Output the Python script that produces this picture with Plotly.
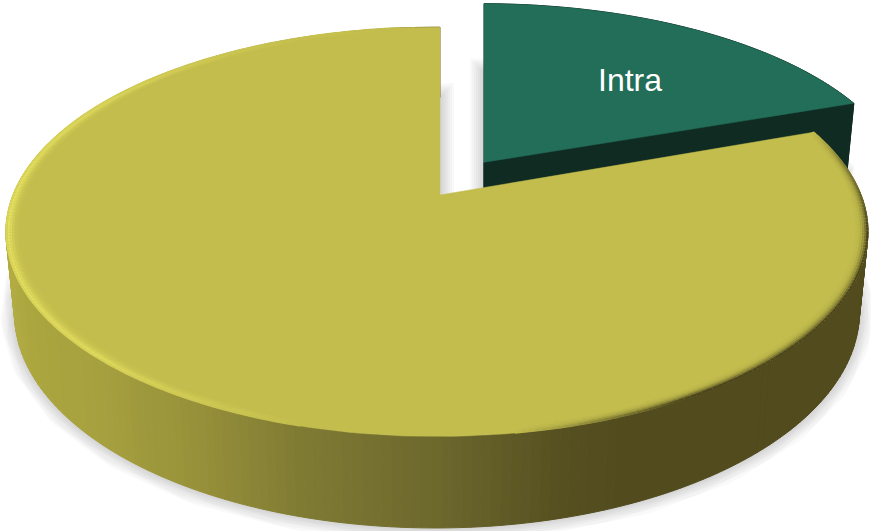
import numpy as np
import plotly.graph_objects as go

categories = ["Intra", "Extra"]
values = [19.5, 80.5]
top_colors = ["#236e59", "#c3bd4e"]
side_color_intra = "#0f2b22"
label_size = 32

# projection of the pie disk on the picture
CX, CY, A, B, K, M, H, BASE = 440, 195, 424, 198, 0.18, 0.007, 79, 0.98
EXPLODE_U, EXPLODE_V = 44 / 424, 0.17
INTRA_STRETCH = 1.018


def project(theta, r=1.0, ou=0.0, ov=0.0, base=False):
    u = r * np.sin(theta)
    v = r * np.cos(theta) + ov
    w = 1 / (1 + K * v + M * u)
    s = BASE if base else 1.0
    stretch = INTRA_STRETCH if ou else 1.0
    x = CX + A * ou + A * u * w * s * stretch
    y = CY - B * v * w * s + (H * w if base else 0)
    return np.asarray(x), np.asarray(y)


def hexrgb(c):
    return np.array([int(c[i:i + 2], 16) for i in (1, 3, 5)], float)


def rgbstr(c):
    return "rgb(%d,%d,%d)" % tuple(np.clip(np.round(c), 0, 255))


total = sum(values)
a0 = 2 * np.pi * values[0] / total
th_intra = np.linspace(0, a0, 60)
th_other = np.linspace(a0, 2 * np.pi, 260)
ou, ov = EXPLODE_U, EXPLODE_V

fig = go.Figure()


def poly(x, y, fill=None, line=None, width=0.0):
    fig.add_trace(go.Scatter(
        x=list(x), y=list(y), mode="lines",
        fill="toself" if fill else "none", fillcolor=fill,
        line=dict(color=line or "rgba(0,0,0,0)", width=width),
        hoverinfo="skip", showlegend=False))


def wedge(theta, **kw):
    x, y = project(theta, 1.0, kw.get("ou", 0), kw.get("ov", 0), kw.get("base", False))
    ax, ay = project(np.array([0.0]), 0.0, kw.get("ou", 0), kw.get("ov", 0), kw.get("base", False))
    return np.r_[ax, x, ax], np.r_[ay, y, ay]


# soft shadow under both slices
for width in (28, 24, 20, 16, 12, 8, 4):
    for th, o in ((th_other, (0, 0)), (th_intra, (ou, ov))):
        x, y = wedge(th, ou=o[0], ov=o[1], base=True)
        poly(x, y, line="rgba(70,70,70,0.032)", width=width)

# exploded slice: wall then top
x, y = wedge(th_intra, ou=ou, ov=ov, base=True)
poly(x, y, fill=side_color_intra, line=side_color_intra, width=1)
xs, ys = [], []
for t0, t1 in zip(th_intra[:-1], th_intra[1:]):
    xa, ya = project(np.array([t0, t1]), 1.0, ou, ov)
    xb, yb = project(np.array([t1, t0]), 1.0, ou, ov, base=True)
    xs += [*xa, *xb, xa[0], None]
    ys += [*ya, *yb, ya[0], None]
poly(xs, ys, fill=side_color_intra, line=side_color_intra, width=1)
ax, ay = project(np.array([0.0]), 0.0, ou, ov)
bx, by = project(np.array([0.0]), 0.0, ou, ov, base=True)
ex, ey = project(np.array([a0]), 1.0, ou, ov)
fx, fy = project(np.array([a0]), 1.0, ou, ov, base=True)
poly([ax[0], ex[0], fx[0], bx[0], ax[0]], [ay[0], ey[0], fy[0], by[0], ay[0]],
     fill=side_color_intra, line=side_color_intra, width=1)
x, y = wedge(th_intra, ou=ou, ov=ov)
poly(x, y, fill=top_colors[0], line=top_colors[0], width=0.5)

# large slice wall, shaded along the picture's width
wall_x = [0, 30, 100, 200, 300, 440, 560, 620, 871]
wall_c = ["#b5af46", "#aca63f", "#a6a03f", "#96903a", "#807b33", "#6c672c", "#565021", "#514b1e", "#514b1e"]
wall_rgb = np.array([hexrgb(c) for c in wall_c])
groups = {}
for t0, t1 in zip(th_other[:-1], th_other[1:]):
    xa, ya = project(np.array([t0, t1]))
    xb, yb = project(np.array([t1, t0]), base=True)
    mx = (xa.mean() + xb.mean()) / 2
    col = rgbstr([np.interp(mx, wall_x, wall_rgb[:, i]) for i in range(3)])
    g = groups.setdefault(col, ([], []))
    g[0].extend([*xa, *xb, xa[0], None])
    g[1].extend([*ya, *yb, ya[0], None])
for col, g in groups.items():
    poly(g[0], g[1], fill=col, line=col, width=1)

# large slice top
x, y = wedge(th_other)
poly(x, y, fill=top_colors[1], line=top_colors[1], width=0.5)

# bevel along the rim: light on the left and front, dark on the right
base_rgb = hexrgb(top_colors[1])
light = hexrgb("#ecE864")
dark = hexrgb("#4a451c")
deg_pts = [70, 80, 100, 150, 172, 195, 225, 265, 300, 335, 360]
str_pts = [0, -0.5, -1, -1, 0, 0, 0.8, 1, 0.7, 0.1, 0]
rings = [(0.9985, 0.6, 1.0), (0.994, 0.85, 0.62), (0.989, 0.62, 0.34),
         (0.984, 0.36, 0.16), (0.979, 0.16, 0.06), (0.974, 0.06, 0.02)]
rim = {}
th_rim = np.linspace(a0, 2 * np.pi, 361)
for r, sl, sd in rings[::-1]:
    for t0, t1 in zip(th_rim[:-1], th_rim[1:]):
        s = np.interp(np.degrees((t0 + t1) / 2), deg_pts, str_pts)
        s = s * sl if s > 0 else s * sd
        if abs(s) < 0.015:
            continue
        c = base_rgb + (light - base_rgb) * s if s > 0 else base_rgb + (dark - base_rgb) * (-s)
        key = rgbstr(np.round(c / 3) * 3)
        xa, ya = project(np.array([t0, t1]), r)
        g = rim.setdefault((r, key), ([], []))
        g[0].extend([*xa, None])
        g[1].extend([*ya, None])
for (r, key), g in rim.items():
    poly(g[0], g[1], line=key, width=2.2)

fig.add_annotation(x=630, y=80, text=categories[0], showarrow=False,
                   font=dict(family="Liberation Sans, Arial, sans-serif", size=label_size, color="#ffffff"))

fig.update_layout(
    width=871, height=531, margin=dict(l=0, r=0, t=0, b=0),
    paper_bgcolor="#ffffff", plot_bgcolor="#ffffff", showlegend=False,
    xaxis=dict(range=[0, 871], visible=False, fixedrange=True),
    yaxis=dict(range=[531, 0], visible=False, fixedrange=True),
)
fig.write_html("out.html", config={"displayModeBar": False},
               post_script="document.body.style.margin='0';document.documentElement.style.overflow='hidden';")
